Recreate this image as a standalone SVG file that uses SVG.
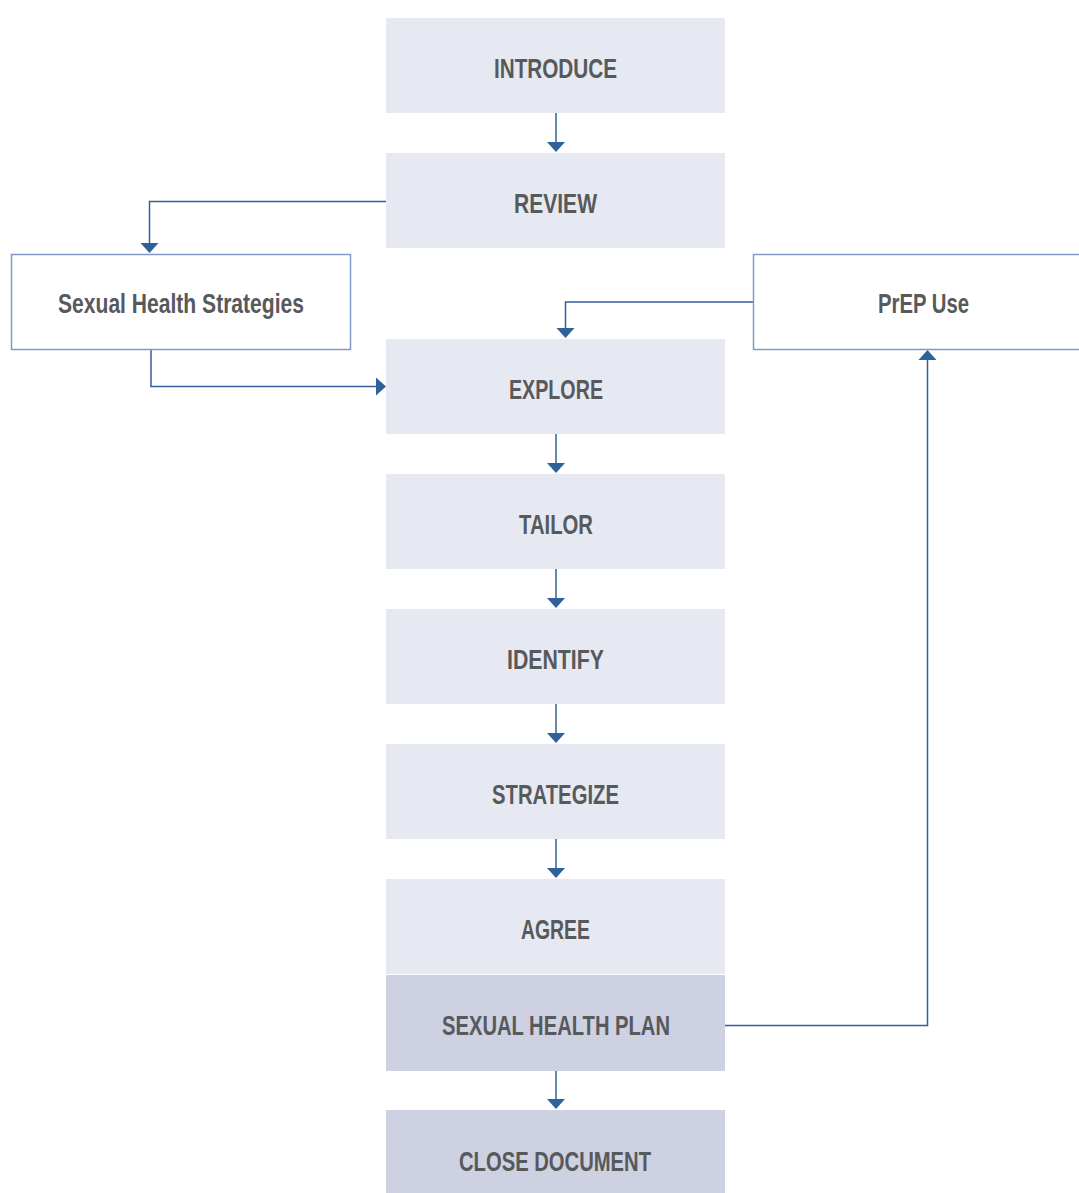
<svg xmlns="http://www.w3.org/2000/svg" width="1079" height="1193" viewBox="0 0 1079 1193">
<defs>
<style>
.step{fill:#e6e9f1}
.plan{fill:#cdd1e2}
.side{fill:#ffffff;stroke:#7f9bc3;stroke-width:1.5}
.lbl{font-family:"Liberation Sans",Arial,sans-serif;font-weight:bold;font-size:28px;fill:#58595b;text-anchor:middle}
.conn{fill:none;stroke:#2f619a;stroke-width:1.5}
.head{fill:#2f619a}
</style>
</defs>
<rect width="1079" height="1193" fill="#ffffff"/>
<g id="connectors">
<path class="conn" d="M556 113V143"/><polygon class="head" points="547,142 565,142 556,152"/>
<path class="conn" d="M386 201.5H149.5V244"/><polygon class="head" points="140.5,243 158.5,243 149.5,253"/>
<path class="conn" d="M151 349V386.5H377"/><polygon class="head" points="376,377.5 376,395.5 386,386.5"/>
<path class="conn" d="M753 302H565.5V329"/><polygon class="head" points="556.5,328 574.5,328 565.5,338"/>
<path class="conn" d="M556 434V464"/><polygon class="head" points="547,463 565,463 556,473"/>
<path class="conn" d="M556 569V599"/><polygon class="head" points="547,598 565,598 556,608"/>
<path class="conn" d="M556 704V734"/><polygon class="head" points="547,733 565,733 556,743"/>
<path class="conn" d="M556 839V869"/><polygon class="head" points="547,868 565,868 556,878"/>
<path class="conn" d="M556 1071V1100"/><polygon class="head" points="547,1099 565,1099 556,1109"/>
<path class="conn" d="M725 1025.5H927.5V359"/><polygon class="head" points="918.5,360 936.5,360 927.5,350"/>
</g>
<g id="introduce"><rect class="step" x="386" y="18" width="339" height="95"/><text class="lbl" x="555.5" y="77.5" textLength="123" lengthAdjust="spacingAndGlyphs">INTRODUCE</text></g>
<g id="review"><rect class="step" x="386" y="153" width="339" height="95"/><text class="lbl" x="555.5" y="212.5" textLength="83" lengthAdjust="spacingAndGlyphs">REVIEW</text></g>
<g id="sexual-health-strategies"><rect class="side" x="11.5" y="254.5" width="339" height="95"/><text class="lbl" x="181" y="312.5" textLength="246" lengthAdjust="spacingAndGlyphs">Sexual Health Strategies</text></g>
<g id="prep-use"><rect class="side" x="753.5" y="254.5" width="340" height="95"/><text class="lbl" x="923.5" y="312.5" textLength="91" lengthAdjust="spacingAndGlyphs">PrEP Use</text></g>
<g id="explore"><rect class="step" x="386" y="339" width="339" height="95"/><text class="lbl" x="556" y="398.5" textLength="94" lengthAdjust="spacingAndGlyphs">EXPLORE</text></g>
<g id="tailor"><rect class="step" x="386" y="474" width="339" height="95"/><text class="lbl" x="556" y="533.5" textLength="74" lengthAdjust="spacingAndGlyphs">TAILOR</text></g>
<g id="identify"><rect class="step" x="386" y="609" width="339" height="95"/><text class="lbl" x="555.5" y="668.5" textLength="97" lengthAdjust="spacingAndGlyphs">IDENTIFY</text></g>
<g id="strategize"><rect class="step" x="386" y="744" width="339" height="95"/><text class="lbl" x="555.5" y="803.5" textLength="127" lengthAdjust="spacingAndGlyphs">STRATEGIZE</text></g>
<g id="agree"><rect class="step" x="386" y="879" width="339" height="95"/><text class="lbl" x="555.5" y="938.5" textLength="69" lengthAdjust="spacingAndGlyphs">AGREE</text></g>
<g id="sexual-health-plan"><rect class="plan" x="386" y="975" width="339" height="96"/><text class="lbl" x="556" y="1034.5" textLength="228" lengthAdjust="spacingAndGlyphs">SEXUAL HEALTH PLAN</text></g>
<g id="close-document"><rect class="plan" x="386" y="1110" width="339" height="83"/><text class="lbl" x="555" y="1170.5" textLength="192" lengthAdjust="spacingAndGlyphs">CLOSE DOCUMENT</text></g>
</svg>
